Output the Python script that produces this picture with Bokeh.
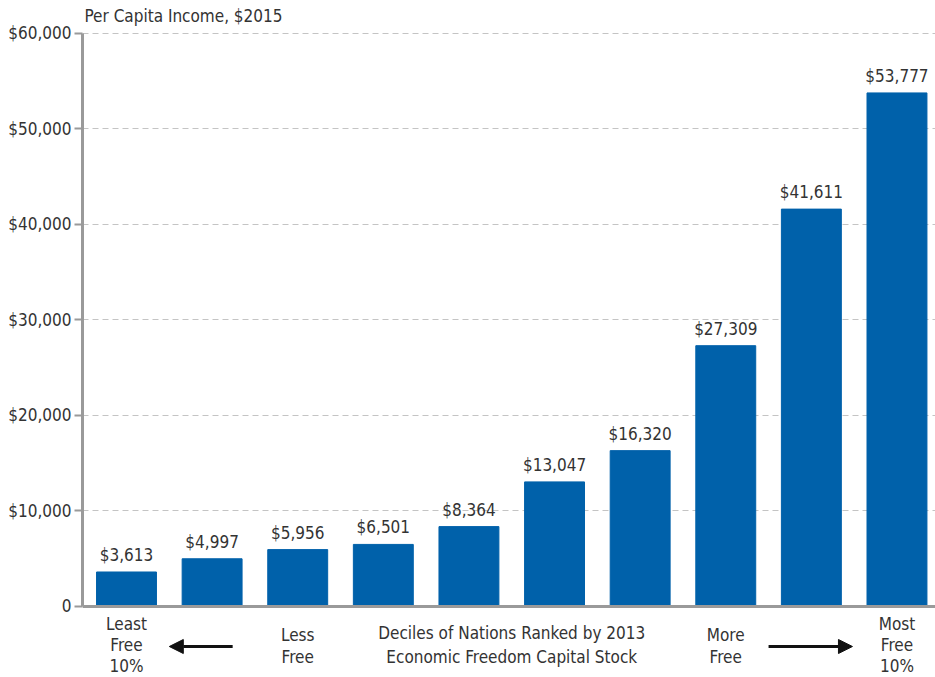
from bokeh.plotting import figure
from bokeh.models import ColumnDataSource, FixedTicker, Label, Arrow, NormalHead, Range1d, Span
from bokeh.core.properties import value
from bokeh.embed import file_html
from bokeh.resources import INLINE

# ---- data ----
deciles = [1, 2, 3, 4, 5, 6, 7, 8, 9, 10]
income = [3613, 4997, 5956, 6501, 8364, 13047, 16320, 27309, 41611, 53777]
y_ticks = [0, 10000, 20000, 30000, 40000, 50000, 60000]
y_tick_labels = ["0", "$10,000", "$20,000", "$30,000", "$40,000", "$50,000", "$60,000"]
title_text = "Per Capita Income, $2015"

FONT = "DejaVu Sans Condensed"
FS = "17px"
BAR = "#0061aa"
TXT = "#333333"
GRAY = "#9a9a9a"

bar_labels = ["${:,}".format(v) for v in income]
src = ColumnDataSource(dict(x=deciles, top=income, lab=bar_labels))

p = figure(width=935, height=677, output_backend="svg", toolbar_location=None,
           x_range=Range1d(0.486, 10.45), y_range=Range1d(-7435, 63455),
           min_border_left=82, min_border_right=0, min_border_top=0, min_border_bottom=0)
p.outline_line_color = None
p.background_fill_color = "white"
p.xaxis.visible = False

# axis baseline
p.add_layout(Span(location=0, dimension="width", line_color=GRAY, line_width=3))

p.vbar(x="x", top="top", width=0.70, source=src, color=BAR)
p.text(x="x", y="top", text="lab", source=src, text_align="center", text_baseline="bottom",
       y_offset=-7, text_font=value(FONT), text_font_size=FS, text_color=TXT)

# y axis
p.yaxis.bounds = (0, 60000)
p.yaxis.ticker = FixedTicker(ticks=y_ticks)
p.yaxis.major_label_overrides = {t: l for t, l in zip(y_ticks, y_tick_labels)}
p.yaxis.major_label_text_font = FONT
p.yaxis.major_label_text_font_size = FS
p.yaxis.major_label_text_color = TXT
p.yaxis.axis_line_color = GRAY
p.yaxis.axis_line_width = 3
p.yaxis.major_tick_line_color = GRAY
p.yaxis.major_tick_line_width = 2
p.yaxis.major_tick_out = 8
p.yaxis.major_tick_in = 0
p.yaxis.minor_tick_line_color = None
p.yaxis.major_label_standoff = 3

p.xgrid.grid_line_color = None
p.ygrid.grid_line_color = "#c4c4c4"
p.ygrid.grid_line_dash = "6 4"
p.ygrid.grid_line_width = 1.2

def lab(x, y, t, align="center"):
    p.add_layout(Label(x=x, y=y, text=t, text_align=align, text_baseline="middle",
                       text_font=FONT, text_font_size=FS, text_color=TXT))

lab(0.509, 61780, title_text, align="left")

lab(1, -1885, "Least"); lab(1, -4084, "Free"); lab(1, -6283, "10%")
lab(10, -1885, "Most"); lab(10, -4084, "Free"); lab(10, -6283, "10%")
lab(3, -3037, "Less"); lab(3, -5340, "Free")
lab(8, -3037, "More"); lab(8, -5340, "Free")
lab(5.5, -2827, "Deciles of Nations Ranked by 2013")
lab(5.5, -5340, "Economic Freedom Capital Stock")

p.add_layout(Arrow(x_start=2.24, y_start=-4190, x_end=1.50, y_end=-4190, line_width=3,
                   line_color="#111111",
                   end=NormalHead(size=14, fill_color="#111111", line_color="#111111")))
p.add_layout(Arrow(x_start=8.50, y_start=-4190, x_end=9.48, y_end=-4190, line_width=3,
                   line_color="#111111",
                   end=NormalHead(size=14, fill_color="#111111", line_color="#111111")))

open("out.html", "w").write(file_html(p, INLINE))
